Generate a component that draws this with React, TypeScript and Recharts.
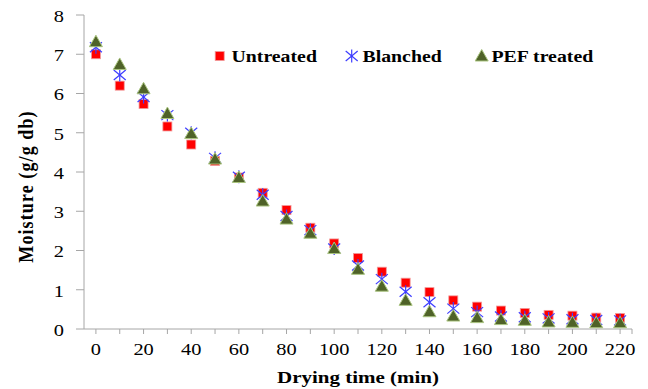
import React from "react";
import { ScatterChart, Scatter, XAxis, YAxis, Legend, Label } from "recharts";

const times = [0, 10, 20, 30, 40, 50, 60, 70, 80, 90, 100, 110, 120, 130, 140, 150, 160, 170, 180, 190, 200, 210, 220];
const untreated = [7.0, 6.2, 5.73, 5.16, 4.7, 4.28, 3.86, 3.47, 3.03, 2.58, 2.18, 1.81, 1.46, 1.18, 0.94, 0.73, 0.57, 0.47, 0.41, 0.36, 0.34, 0.29, 0.28];
const blanched = [7.18, 6.47, 5.91, 5.45, 5.0, 4.36, 3.88, 3.42, 2.88, 2.52, 2.05, 1.62, 1.27, 0.95, 0.68, 0.52, 0.43, 0.32, 0.3, 0.27, 0.25, 0.23, 0.22];
const pef = [7.32, 6.74, 6.12, 5.49, 4.98, 4.33, 3.86, 3.26, 2.8, 2.44, 2.05, 1.52, 1.09, 0.73, 0.44, 0.33, 0.29, 0.24, 0.22, 0.18, 0.17, 0.16, 0.16];
const seriesNames = ["Untreated", "Blanched", "PEF treated"];
const xTicks = [0, 10, 20, 30, 40, 50, 60, 70, 80, 90, 100, 110, 120, 130, 140, 150, 160, 170, 180, 190, 200, 210, 220, 225];
const yTicks = [0, 1, 2, 3, 4, 5, 6, 7, 8];
const xTitle = "Drying time (min)";
const yTitle = "Moisture (g/g db)";

const FONT = "'Liberation Serif', 'Times New Roman', serif";
const AXIS = "#a6a6a6";

const toPoints = (vals: number[]) => times.map((t, i) => ({ x: t, y: vals[i] }));

const Square = ({ cx, cy }: any) => (
  <rect x={cx - 4.5} y={cy - 4.5} width={9} height={9} fill="#ff0000" stroke="#f29a9a" strokeWidth={0.8} />
);
const Star = ({ cx, cy }: any) => (
  <g stroke="#3d3dff" strokeWidth={1.2} fill="none">
    <line x1={cx - 6} y1={cy - 5} x2={cx + 6} y2={cy + 5} />
    <line x1={cx - 6} y1={cy + 5} x2={cx + 6} y2={cy - 5} />
    <line x1={cx} y1={cy - 6.5} x2={cx} y2={cy + 6.5} />
  </g>
);
const Tri = ({ cx, cy }: any) => (
  <polygon
    points={`${cx},${cy - 6.5} ${cx - 6.5},${cy + 5} ${cx + 6.5},${cy + 5}`}
    fill="#4f6228"
    stroke="#a9c47f"
    strokeWidth={1}
  />
);

const XTick = ({ x, y, payload }: any) => {
  const v = payload.value;
  if (v % 20 !== 0 || v > 220) return null;
  return (
    <text transform={`translate(${x},${y + 21}) scale(1.2,1)`} textAnchor="middle" fontFamily={FONT} fontSize={17} fill="#000">
      {v}
    </text>
  );
};
const YTick = ({ x, y, payload }: any) => (
  <text transform={`translate(${x - 12},${y + 6.8}) scale(1.2,1)`} textAnchor="end" fontFamily={FONT} fontSize={17} fill="#000">
    {payload.value}
  </text>
);

const LegendContent = () => {
  const shapes = [Square, Star, Tri];
  const iconX = [219.7, 351.7, 481.7];
  const textX = [231.5, 362.5, 491.5];
  return (
    <svg width={648} height={30} style={{ display: "block" }}>
      {seriesNames.map((n, i) => {
        const S = shapes[i];
        return (
          <g key={n}>
            <S cx={iconX[i]} cy={16} />
            <text transform={`translate(${textX[i]},22.3) scale(1.2,1)`} fontFamily={FONT} fontWeight={700} fontSize={16.5} fill="#000">
              {n}
            </text>
          </g>
        );
      })}
    </svg>
  );
};

export default function App() {
  return (
    <div style={{ position: "absolute", left: 0, top: 0, width: 648, height: 389, background: "#fff" }}>
      <ScatterChart width={648} height={389} margin={{ top: 15, right: 16, bottom: 0, left: 24 }}>
        <XAxis
          type="number"
          dataKey="x"
          domain={[-5, 225]}
          ticks={xTicks}
          interval={0}
          height={60}
          stroke={AXIS}
          tickSize={5}
          tickMargin={0}
          tick={<XTick />}
          allowDataOverflow
        >
          <Label
            content={() => (
              <text transform="translate(358,383) scale(1.2,1)" textAnchor="middle" fontFamily={FONT} fontWeight={700} fontSize={17.5} fill="#000">
                {xTitle}
              </text>
            )}
          />
        </XAxis>
        <YAxis
          type="number"
          dataKey="y"
          domain={[0, 8]}
          ticks={yTicks}
          interval={0}
          width={60}
          stroke={AXIS}
          tickSize={8}
          tickMargin={0}
          tick={<YTick />}
          allowDataOverflow
        >
          <Label
            content={() => (
              <text
                transform="translate(33,186.5) scale(1.2,1) rotate(-90)"
                textAnchor="middle"
                fontFamily={FONT}
                fontWeight={700}
                fontSize={18}
                letterSpacing={1.1}
                fill="#000"
              >
                {yTitle}
              </text>
            )}
          />
        </YAxis>
        <Legend
          layout="horizontal"
          verticalAlign="middle"
          align="center"
          content={<LegendContent />}
          wrapperStyle={{ top: 40, left: 0, width: 648, height: 30 }}
        />
        <Scatter name={seriesNames[0]} data={toPoints(untreated)} shape={<Square />} isAnimationActive={false} />
        <Scatter name={seriesNames[1]} data={toPoints(blanched)} shape={<Star />} isAnimationActive={false} />
        <Scatter name={seriesNames[2]} data={toPoints(pef)} shape={<Tri />} isAnimationActive={false} />
      </ScatterChart>
    </div>
  );
}
